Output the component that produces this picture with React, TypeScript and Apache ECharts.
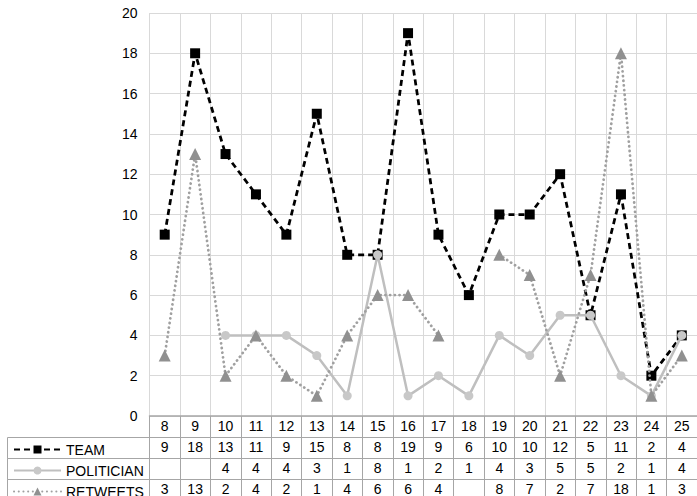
import React, { useEffect, useRef } from "react";
import * as echarts from "echarts";

const categories = ["8", "9", "10", "11", "12", "13", "14", "15", "16", "17", "18", "19", "20", "21", "22", "23", "24", "25"];
const team: (number | null)[] = [9, 18, 13, 11, 9, 15, 8, 8, 19, 9, 6, 10, 10, 12, 5, 11, 2, 4];
const politician: (number | null)[] = [null, null, 4, 4, 4, 3, 1, 8, 1, 2, 1, 4, 3, 5, 5, 2, 1, 4];
const retweets: (number | null)[] = [3, 13, 2, 4, 2, 1, 4, 6, 6, 4, null, 8, 7, 2, 7, 18, 1, 3];
const seriesNames = ["TEAM", "POLITICIAN", "RETWEETS"];
const yTicks = { min: 0, max: 20, interval: 2 };

const FONT = "'Liberation Sans', Arial, sans-serif";
const FS = 14;
const BORDER = "#a6a6a6";
const ROW = 21;
const AXIS_Y = 416;

export default function App() {
  const ref = useRef<HTMLDivElement>(null);
  useEffect(() => {
    if (!ref.current) return;
    const chart = echarts.init(ref.current, undefined, { renderer: "svg" });
    const rows = [team, politician, retweets];
    const tableAxis = (i: number) => ({
      type: "category",
      data: categories,
      position: "bottom",
      offset: ROW * (i + 1),
      gridIndex: 0,
      boundaryGap: true,
      axisLine: { show: true, lineStyle: { color: BORDER, width: 1 } },
      axisTick: { show: true, length: ROW, inside: false, interval: 0, lineStyle: { color: BORDER } },
      axisLabel: {
        interval: 0,
        margin: 3,
        fontSize: FS,
        color: "#000",
        fontFamily: FONT,
        formatter: (_v: string, idx: number) => {
          const val = rows[i][idx];
          return val == null ? "" : String(val);
        },
      },
      splitLine: { show: false },
    });
    const legends = seriesNames.map((name, i) => ({
      orient: "horizontal",
      left: 13,
      top: AXIS_Y + ROW * (i + 1) + ROW / 2 - 5,
      padding: 0,
      itemWidth: 47,
      itemHeight: 10,
      textStyle: { fontSize: FS, color: "#000", fontFamily: FONT },
      data: [name],
    }));
    const option: any = {
      animation: false,
      textStyle: { fontFamily: FONT },
      grid: { left: 149.5, right: -6.5, top: 13, bottom: 496 - AXIS_Y, containLabel: false },
      legend: legends,
      xAxis: [
        {
          type: "category",
          data: categories,
          position: "bottom",
          boundaryGap: true,
          axisLine: { show: true, lineStyle: { color: BORDER, width: 1.5 } },
          axisTick: { show: true, length: ROW, interval: 0, lineStyle: { color: BORDER } },
          axisLabel: { interval: 0, margin: 3, fontSize: FS, color: "#000", fontFamily: FONT },
          splitLine: { show: true, interval: 0, lineStyle: { color: "#d9d9d9", width: 1 } },
        },
        tableAxis(0),
        tableAxis(1),
        tableAxis(2),
      ],
      yAxis: {
        type: "value",
        min: yTicks.min,
        max: yTicks.max,
        interval: yTicks.interval,
        axisLine: { show: false },
        axisTick: { show: false },
        axisLabel: { fontSize: FS, color: "#000", margin: 12, fontFamily: FONT },
        splitLine: { show: true, lineStyle: { color: "#d9d9d9", width: 1 } },
      },
      series: [
        {
          name: "TEAM",
          type: "line",
          data: team,
          symbol: "rect",
          symbolSize: 10,
          itemStyle: { color: "#000" },
          lineStyle: { color: "#000", width: 2.75, type: [6, 4] },
          z: 2,
        },
        {
          name: "POLITICIAN",
          type: "line",
          data: politician,
          symbol: "circle",
          symbolSize: 9,
          connectNulls: false,
          itemStyle: { color: "#c8c8c8" },
          lineStyle: { color: "#bfbfbf", width: 2.5 },
          z: 3,
        },
        {
          name: "RETWEETS",
          type: "line",
          data: retweets,
          symbol: "triangle",
          symbolSize: 12,
          connectNulls: false,
          itemStyle: { color: "#909090" },
          lineStyle: { color: "#a0a0a0", width: 2.75, type: [0.1, 4.6], cap: "round" },
          z: 4,
        },
      ],
      graphic: [0, 1, 2].map((i) => ({
        type: "rect",
        shape: { x: 7.5, y: AXIS_Y + ROW * (i + 1) + 0.5, width: 142, height: ROW },
        style: { fill: "none", stroke: BORDER, lineWidth: 1 },
        silent: true,
      })),
    };
    chart.setOption(option);
    return () => chart.dispose();
  }, []);
  return (
    <div
      ref={ref}
      style={{ position: "fixed", left: 0, top: 0, width: 697, height: 496, background: "#fff" }}
    />
  );
}
